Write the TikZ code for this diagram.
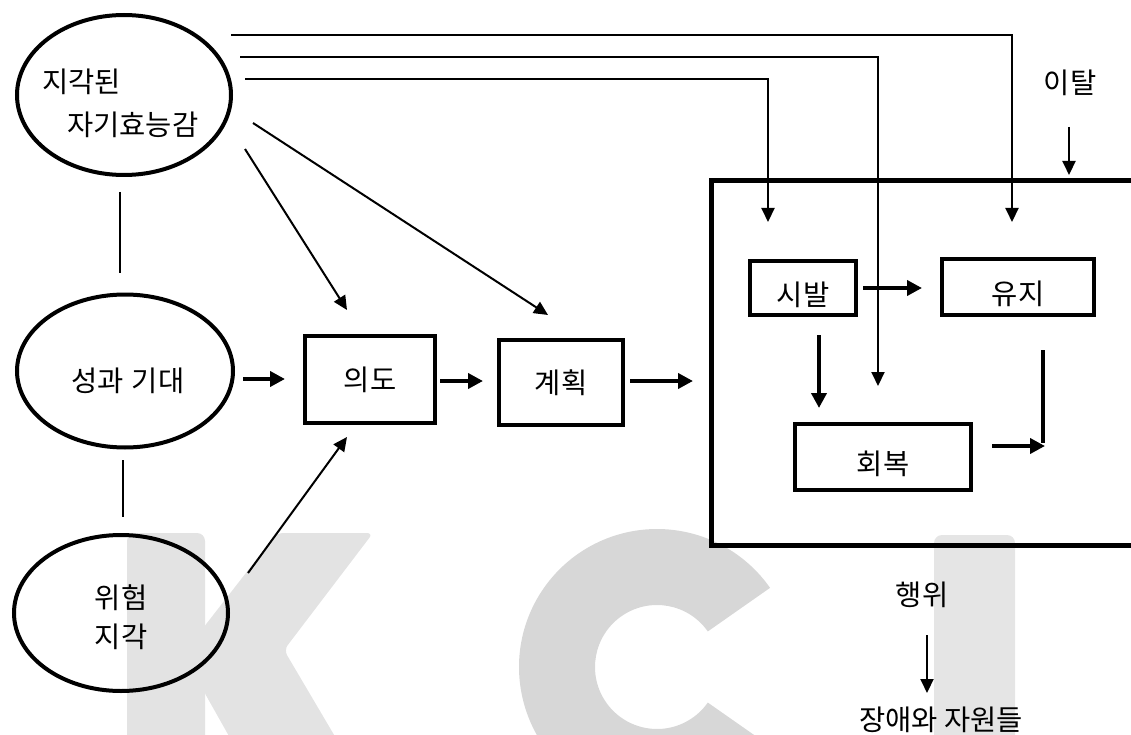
\documentclass[tikz,border=0pt]{standalone}
\usepackage{fontspec}
\setmainfont{Noto Sans CJK KR}
\usetikzlibrary{arrows.meta,shapes.geometric}
\definecolor{markK}{gray}{0.89}
\definecolor{markC}{gray}{0.845}
\definecolor{markI}{gray}{0.90}
\begin{document}
\begin{tikzpicture}[x=1pt,y=-1pt,
  txt/.style={font=\fontsize{28.5pt}{39pt}\selectfont, inner sep=0pt},
  oval/.style={draw, ellipse, line width=4pt, inner sep=0pt},
  stepbox/.style={draw, rectangle, line width=4pt, inner sep=0pt,
                  font=\fontsize{28.5pt}{39pt}\selectfont},
  low/.style={text height=35pt, text depth=0pt},
  thin/.style={line width=2pt, -{Triangle[length=14pt,width=13pt]}},
  bold/.style={line width=4pt, -{Triangle[length=15pt,width=15pt]}},
  link/.style={line width=2pt}
]
\useasboundingbox (0,0) rectangle (1131,735);

% ---- faint KCI letters in the background ----
\fill[markK, rounded corners=8pt] (127,760) -- (127,533) -- (205,533) -- (205,760) -- cycle;
\fill[markK, rounded corners=6pt] (200,632) -- (277,533) -- (373,533) -- (284,650)
      -- (340,745) -- (234,745) -- (203,690) -- cycle;
\fill[markC] ([shift={(657,667)}]35:138) arc[start angle=35,end angle=325,radius=138]
      -- ([shift={(657,667)}]325:62) arc[start angle=325,end angle=35,radius=62] -- cycle;
\fill[markI, rounded corners=8pt] (934,760) -- (934,535) -- (1015,535) -- (1015,760) -- cycle;

% ---- antecedents ----
\node[oval, minimum width=214pt, minimum height=160pt] (eff) at (124,95) {};
\node[txt, anchor=west] (effA) at (42,82) {지각된};
\node[txt, anchor=west] (effB) at (67,125) {자기효능감};

\node[oval, minimum width=216pt, minimum height=153pt] (out) at (125,371) {};
\node[txt] (outT) at (128,381) {성과\hspace{8pt}기대};

\node[oval, minimum width=214pt, minimum height=156pt] (risk) at (121,613) {};
\node[txt, align=center] (riskT) at (121,617) {위험\\지각};

% ---- motivation and volition ----
\node[stepbox, minimum width=130pt, minimum height=87pt] (intent) at (370,379.5) {의도};
\node[stepbox, minimum width=124pt, minimum height=85pt] (plan) at (561,382.5) {계획};

% ---- behaviour frame ----
\node[draw, line width=5pt, inner sep=0pt, minimum width=430pt, minimum height=365pt]
      (behav) at (926,363) {};
\node[stepbox, low, minimum width=106pt, minimum height=54pt] (init) at (803,288) {시발};
\node[stepbox, low, minimum width=152pt, minimum height=56pt] (keep) at (1018,287) {유지};
\node[stepbox, low, minimum width=176pt, minimum height=66pt] (recov) at (883,457) {회복};

% ---- outside labels ----
\node[txt] (quit) at (1070,83) {이탈};
\node[txt] (act) at (922,595) {행위};
\node[txt] (bar) at (941,720) {장애와 자원들};

% ---- connector end points ----
\coordinate (a0) at (231,35);  \coordinate (a1) at (1012,222);
\coordinate (b0) at (240,57);  \coordinate (b1) at (878,386);
\coordinate (c0) at (245,79);  \coordinate (c1) at (768,222);
\coordinate (d0) at (245,149); \coordinate (d1) at (347,310);
\coordinate (e0) at (253,123); \coordinate (e1) at (548,315);
\coordinate (f0) at (248,573); \coordinate (f1) at (347,437);
\coordinate (g0) at (120,192); \coordinate (g1) at (120,273);
\coordinate (h0) at (123,460); \coordinate (h1) at (123,517);
\coordinate (q0) at (1069,127); \coordinate (q1) at (1069,175);
\coordinate (r0) at (927,635); \coordinate (r1) at (927,693);
\coordinate (s0) at (1043,350); \coordinate (s1) at (1043,443);
\coordinate (s2) at (1045,446);

% ---- self-efficacy links ----
\draw[thin] (a0) -| (a1);
\draw[thin] (b0) -| (b1);
\draw[thin] (c0) -| (c1);
\draw[thin] (d0) -- (d1);
\draw[thin] (e0) -- (e1);
\draw[thin] (f0) -- (f1);
\draw[link] (g0) -- (g1);
\draw[link] (h0) -- (h1);

% ---- main chain ----
\draw[bold] (out.east -| 243,0) ++(0,8) -- (285,379);
\draw[bold] (intent.east) ++(3,1.5) -- (483,381);
\draw[bold] (plan.east) ++(5,-1.5) -- (693,381);
\draw[bold] (init.east) ++(5,0) -- (922,288);
\draw[bold] (819,335) -- (819,408);
\draw[line width=4pt] (s0) -- (s1);
\draw[bold] (recov.east) ++(19,-11) -- (s2);

% ---- side arrows ----
\draw[thin] (q0) -- (q1);
\draw[thin] (r0) -- (r1);
\end{tikzpicture}
\end{document}
